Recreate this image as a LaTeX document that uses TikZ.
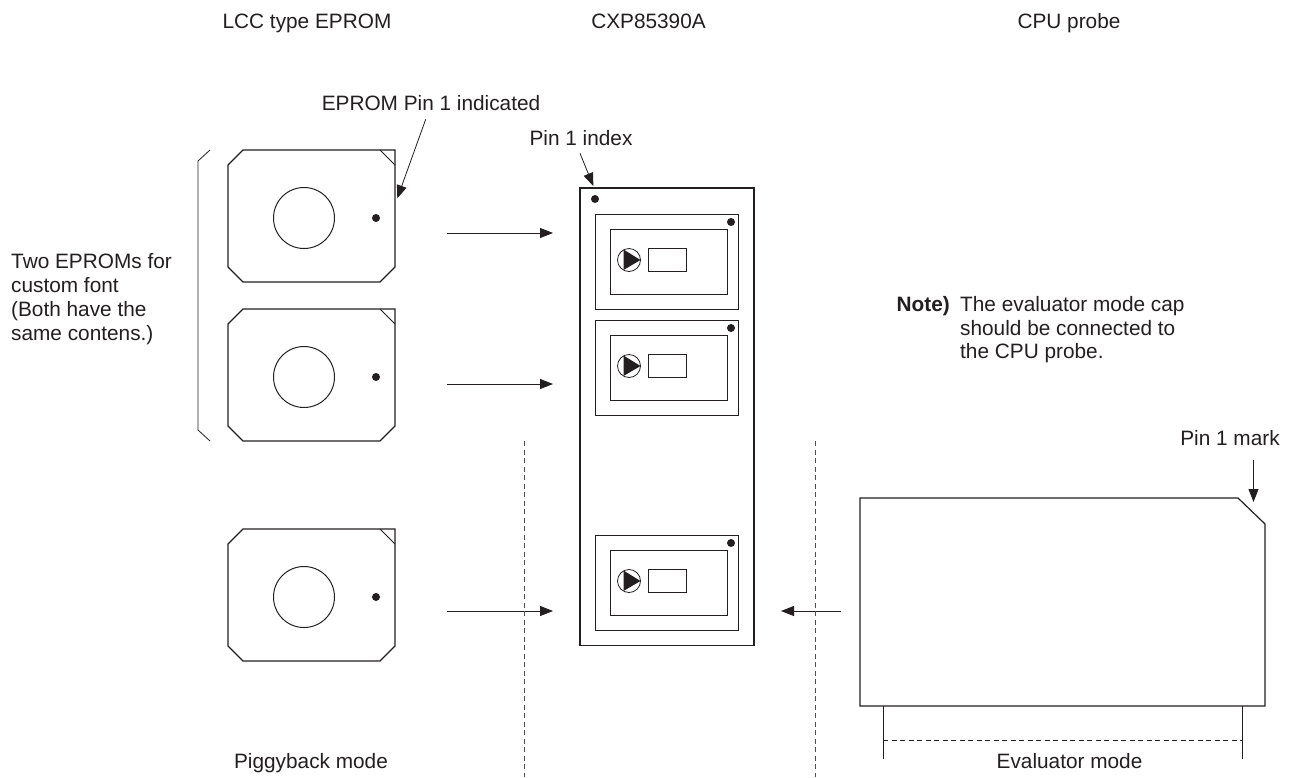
\documentclass[tikz,border=0pt]{standalone}
\usepackage{fontspec}
\setmainfont{Liberation Sans}
\usetikzlibrary{arrows.meta}
\definecolor{ink}{HTML}{231F20}
\tikzset{
  x=1pt,y=-1pt,
  part/.style={draw=ink,line width=1.2pt},
  thin part/.style={draw=ink,line width=1pt},
  lbl/.style={inner sep=0pt,text=ink,font=\fontsize{20.8}{24}\selectfont,anchor=base},
  lbll/.style={lbl,anchor=base west},
  feed/.style={draw=ink,line width=.8pt,-{Triangle[length=13pt,width=10pt]}},
  sep/.style={draw=ink!80,line width=.7pt,dash pattern=on 5pt off 3.5pt},
  dotm/.style={circle,fill=ink,inner sep=0pt,minimum size=8pt},
}
\newcommand{\eprom}[2]{%
  \draw[part] (#1+15,#2-66) -- (#1+167,#2-66) -- (#1+167,#2+51) -- (#1+152,#2+66) -- (#1+15,#2+66) -- (#1,#2+51) -- (#1,#2-51) -- cycle;
  \draw[thin part] (#1+152,#2-66) -- (#1+167,#2-51);
  \draw[thin part] (#1+76,#2+2) circle (30.5);
  \node[dotm] at (#1+148,#2+2) {};
}
\newcommand{\socket}[1]{%
  \draw[thin part] (595,#1) rectangle (738.5,#1+95);
  \draw[thin part] (610,#1+15.5) rectangle (727.5,#1+80);
  \draw[thin part] (648,#1+34.5) rectangle (686,#1+57);
  \draw[draw=ink,line width=.8pt] (629,#1+46) circle (11.5);
  \fill[ink] (623.5,#1+35.5) -- (640.5,#1+46) -- (623.5,#1+56) -- cycle;
  \node[dotm] at (731,#1+8) {};
}
\begin{document}
\begin{tikzpicture}
\useasboundingbox (0,0) rectangle (1295,777);
\fill[white] (0,0) rectangle (1295,777);
% titles
\node[lbl] (t1) at (307,28) {LCC type EPROM};
\node[lbl] (t2) at (648.5,28) {CXP85390A};
\node[lbl] (t3) at (1069,28) {CPU probe};
\node[lbl] (t4) at (431,110) {EPROM Pin 1 indicated};
\node[lbl] (t5) at (581,145) {Pin 1 index};
\node[lbl] (t6) at (1230,445) {Pin 1 mark};
\node[lbl] (t7) at (311,768.5) {Piggyback mode};
\node[lbl] (t8) at (1069.5,768.5) {Evaluator mode};
\node[lbll] (t9) at (11,268) {Two EPROMs for};
\node[lbll] (t10) at (11,292.5) {custom font};
\node[lbll] (t11) at (11,316.5) {(Both have the};
\node[lbll] (t12) at (11,340.5) {same contens.)};
\node[lbll,font=\fontsize{20.8}{24}\selectfont\bfseries] (n0) at (896.5,311.5) {Note)};
\node[lbll] (n1) at (960,311.5) {The evaluator mode cap};
\node[lbll] (n2) at (960,335) {should be connected to};
\node[lbll] (n3) at (960,358) {the CPU probe.};
% bracket
\draw[draw=ink,line width=.8pt] (210,150) -- (198,161) -- (198,430) -- (210,441);
% EPROMs
\eprom{228}{216}
\eprom{228}{375}
\eprom{228}{595}
% CXP
\draw[part] (580,188) rectangle (754,645.5);
\node[dotm] at (595,199) {};
\socket{214}
\socket{320}
\socket{535}
% arrows
\coordinate (a1) at (447,233); \coordinate (b1) at (553,233);
\coordinate (a2) at (447,384); \coordinate (b2) at (553,384);
\coordinate (a3) at (447,611); \coordinate (b3) at (553,611);
\coordinate (a4) at (841,611); \coordinate (b4) at (781,611);
\draw[feed] (a1) -- (b1);
\draw[feed] (a2) -- (b2);
\draw[feed] (a3) -- (b3);
\draw[feed] (a4) -- (b4);
\coordinate (c1) at (425.7,119.3); \coordinate (d1) at (397.3,198.3);
\draw[feed] (c1) -- (d1);
\coordinate (c2) at (580,153.3); \coordinate (d2) at (593.3,186);
\draw[feed] (c2) -- (d2);
\coordinate (c3) at (1253.5,460); \coordinate (d3) at (1253.5,502);
\draw[feed] (c3) -- (d3);
% separators
\draw[sep] (524,441) -- (524,777);
\draw[sep] (815,441) -- (815,777);
% probe
\draw[part] (860,498) -- (1238,498) -- (1265,524) -- (1265,706) -- (860,706) -- cycle;
\draw[thin part] (883,706) -- (883,759);
\draw[thin part] (1242,706) -- (1242,759);
\draw[draw=ink,line width=.9pt,dash pattern=on 5pt off 3.5pt] (883,740) -- (1242,740);
\end{tikzpicture}
\end{document}
